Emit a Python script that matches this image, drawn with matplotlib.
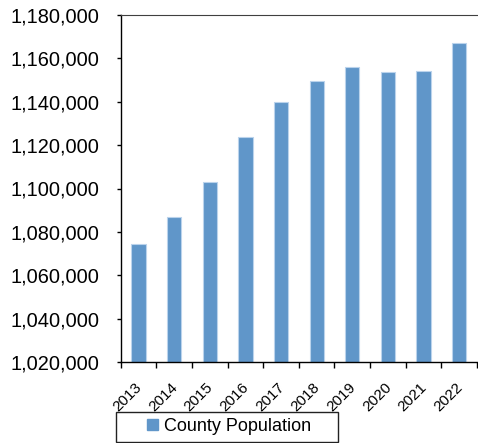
import matplotlib; matplotlib.use('Agg')
from matplotlib import pyplot as plt
from matplotlib.patches import Patch, Rectangle
import matplotlib.transforms as mtransforms
import numpy as np

years = ['2013', '2014', '2015', '2016', '2017', '2018', '2019', '2020', '2021', '2022']
population = [1074600, 1086900, 1103100, 1123600, 1139800, 1149700, 1156100, 1153800, 1154300, 1167000]
yticks = list(range(1020000, 1180001, 20000))

plt.rcParams['font.family'] = ['Liberation Sans', 'DejaVu Sans']

W, H = 478, 443
fig = plt.figure(figsize=(W/100.0, H/100.0), dpi=100)
# axes placed in pixel units
x0, x1, ytop, ybot = 120.7, 477.0, 14.7, 362.3
ax = fig.add_axes([x0/W, (H-ybot)/H, (x1-x0)/W, (ybot-ytop)/H])

x = np.arange(len(years))
ax.bar(x, population, width=0.4, color='#6096C9', edgecolor='#BBD3EC', linewidth=0.8, zorder=2)

ax.set_xlim(-0.5, len(years)-0.5)
ax.set_ylim(1020000, 1180000)
ax.set_yticks(yticks)
ax.set_yticklabels(['{:,}'.format(v) for v in yticks], fontsize=14.4)
ax.tick_params(axis='y', direction='out', length=3, width=1, pad=12)

ax.set_xticks(x)
ax.set_xticklabels(years, fontsize=11, rotation=45, ha='right')
ax.set_xticks(np.arange(-0.5, len(years), 1.0), minor=True)
ax.tick_params(axis='x', which='major', length=0, pad=13)
ax.tick_params(axis='x', which='minor', direction='out', length=4, width=1)
offset = mtransforms.ScaledTranslation(6/100.0, 0, fig.dpi_scale_trans)
for lbl in ax.get_xticklabels():
	lbl.set_transform(lbl.get_transform() + offset)

ax.spines['right'].set_visible(False)
ax.spines['top'].set_color('#404040')
for s in ['left', 'bottom']:
	ax.spines[s].set_color('black')
	ax.spines[s].set_linewidth(1)

# legend box drawn by hand
fig.patches.append(Rectangle((115.5/W, (H-441.5)/H), 222.5/W, 29.5/H, transform=fig.transFigure,
	fill=False, edgecolor='#222222', linewidth=1))
handle = Patch(facecolor='#6096C9', edgecolor='#6096C9')
fig.legend([handle], ['County Population'], loc='center', bbox_to_anchor=(229/W, (H-426.5)/H),
	frameon=False, fontsize=13, handlelength=0.6, handleheight=0.6, handletextpad=0.3)

plt.savefig('out.png', dpi=100)
